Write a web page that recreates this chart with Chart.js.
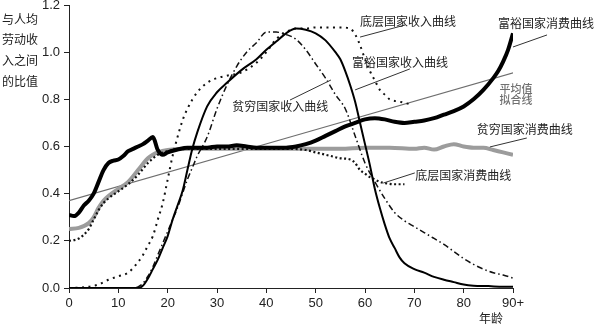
<!DOCTYPE html>
<html>
<head>
<meta charset="utf-8">
<script src="https://cdn.jsdelivr.net/npm/chart.js@4.4.1/dist/chart.umd.min.js"></script>
<style>
  html, body { margin: 0; padding: 0; background: #fff; }
</style>
</head>
<body>
<canvas id="ageChart" width="595" height="324"></canvas>
<script>
// tick labels
const xTickLabels = ['0', '10', '20', '30', '40', '50', '60', '70', '80', '90+'];
const yTickLabels = ['0.0', '0.2', '0.4', '0.6', '0.8', '1.0', '1.2'];

// 富裕国家消费曲线
const richConsAges = [0, 1, 2, 3, 4, 5, 6, 7, 8, 9, 10, 11, 12, 13, 14, 15, 16, 17, 18, 19, 20, 22, 24, 26, 28, 30, 32, 34, 36, 38, 40, 42, 44, 46, 48, 50, 52, 54, 56, 58, 60, 62, 64, 66, 68, 70, 72, 74, 76, 78, 80, 82, 84, 86, 87, 88, 89, 90];
const richConsVals = [0.31, 0.305, 0.32, 0.35, 0.37, 0.40, 0.45, 0.50, 0.53, 0.54, 0.545, 0.56, 0.58, 0.59, 0.60, 0.61, 0.625, 0.64, 0.585, 0.565, 0.575, 0.587, 0.595, 0.595, 0.595, 0.60, 0.60, 0.605, 0.60, 0.595, 0.595, 0.595, 0.595, 0.60, 0.61, 0.625, 0.645, 0.665, 0.685, 0.70, 0.715, 0.72, 0.715, 0.705, 0.70, 0.705, 0.71, 0.72, 0.735, 0.75, 0.77, 0.80, 0.84, 0.89, 0.92, 0.96, 1.01, 1.08];

// 贫穷国家消费曲线
const poorConsAges = [0, 2, 4, 5, 6, 7, 8, 10, 12, 14, 16, 17, 18, 20, 25, 30, 35, 40, 45, 50, 55, 60, 65, 70, 72, 74, 76, 78, 80, 82, 84, 86, 88, 90];
const poorConsVals = [0.25, 0.255, 0.275, 0.30, 0.34, 0.37, 0.39, 0.42, 0.45, 0.50, 0.55, 0.565, 0.575, 0.585, 0.59, 0.59, 0.59, 0.59, 0.59, 0.59, 0.59, 0.595, 0.595, 0.59, 0.595, 0.587, 0.60, 0.61, 0.60, 0.595, 0.595, 0.585, 0.575, 0.565];

// 底层国家消费曲线
const lowConsAges = [0, 2, 4, 5, 6, 7, 8, 10, 12, 14, 16, 18, 20, 25, 30, 35, 40, 45, 48, 50, 53, 55, 57, 58, 59, 60, 61, 62, 63, 64, 66, 68];
const lowConsVals = [0.20, 0.21, 0.25, 0.29, 0.33, 0.36, 0.38, 0.41, 0.44, 0.48, 0.53, 0.565, 0.58, 0.59, 0.59, 0.59, 0.59, 0.59, 0.585, 0.575, 0.56, 0.55, 0.545, 0.53, 0.50, 0.485, 0.47, 0.46, 0.45, 0.445, 0.44, 0.44];

// 富裕国家收入曲线
const richIncAges = [0, 14, 15, 16, 17, 18, 19, 20, 21, 22, 23, 24, 25, 26, 28, 30, 32, 35, 38, 40, 42, 44, 46, 48, 50, 52, 54, 55, 56, 57, 58, 59, 60, 61, 62, 63, 64, 65, 66, 67, 68, 70, 72, 74, 76, 78, 80, 82, 85, 88, 90];
const richIncVals = [0, 0, 0.01, 0.04, 0.08, 0.12, 0.17, 0.22, 0.29, 0.35, 0.41, 0.50, 0.59, 0.66, 0.77, 0.83, 0.87, 0.925, 0.97, 1.01, 1.045, 1.08, 1.10, 1.095, 1.08, 1.05, 1.0, 0.97, 0.92, 0.86, 0.79, 0.70, 0.61, 0.52, 0.42, 0.34, 0.27, 0.21, 0.17, 0.13, 0.105, 0.08, 0.065, 0.047, 0.035, 0.025, 0.015, 0.01, 0.008, 0.005, 0.005];

// 贫穷国家收入曲线
const poorIncAges = [0, 13, 14, 15, 16, 17, 18, 19, 20, 21, 22, 23, 24, 25, 26, 28, 30, 32, 34, 36, 38, 40, 42, 44, 46, 48, 50, 52, 54, 56, 58, 60, 62, 64, 66, 68, 70, 72, 74, 76, 78, 80, 82, 84, 86, 88, 90];
const poorIncVals = [0, 0, 0.005, 0.02, 0.05, 0.09, 0.14, 0.19, 0.24, 0.29, 0.34, 0.40, 0.46, 0.51, 0.56, 0.64, 0.76, 0.86, 0.94, 1.0, 1.04, 1.085, 1.085, 1.075, 1.055, 1.01, 0.95, 0.89, 0.82, 0.76, 0.645, 0.53, 0.45, 0.38, 0.32, 0.285, 0.26, 0.235, 0.21, 0.185, 0.155, 0.125, 0.10, 0.08, 0.065, 0.055, 0.042];

// 底层国家收入曲线
const lowIncAges = [0, 4, 6, 8, 10, 12, 14, 15, 16, 17, 18, 19, 20, 21, 22, 23, 24, 26, 28, 30, 32, 35, 38, 40, 42, 44, 46, 48, 50, 55, 57, 58, 59, 60, 61, 62, 63, 64, 65, 67, 69];
const lowIncVals = [0, 0.005, 0.015, 0.035, 0.05, 0.065, 0.11, 0.14, 0.18, 0.22, 0.29, 0.36, 0.46, 0.56, 0.64, 0.71, 0.76, 0.83, 0.87, 0.89, 0.90, 0.915, 0.955, 1.0, 1.055, 1.085, 1.10, 1.10, 1.105, 1.105, 1.10, 1.075, 1.03, 0.97, 0.92, 0.88, 0.84, 0.82, 0.80, 0.79, 0.78];

// 平均值拟合线
const fitAges = [0, 90.4];
const fitVals = [0.37, 0.915];

function pts(ages, vals) {
    return ages.map((a, i) => ({ x: a, y: vals[i] }));
}

// callouts, placed in data units (age, ratio)
const notes = [
    { text: '底层国家收入曲线', at: [68.7, 1.132], from: [59.0, 1.064], to: [68.1, 1.115] },
    { text: '富裕国家收入曲线', at: [67.1, 0.958], from: [58.0, 0.840], to: [69.1, 0.929] },
    { text: '贫穷国家收入曲线', at: [42.8, 0.768], from: [44.8, 0.797], to: [53.1, 0.882] },
    { text: '富裕国家消费曲线', at: [96.7, 1.120], from: [90.0, 1.022], to: [96.9, 1.073] },
    { text: '贫穷国家消费曲线', at: [92.4, 0.674], from: [85.3, 0.598], to: [92.8, 0.636] },
    { text: '底层国家消费曲线', at: [79.9, 0.479], from: [63.7, 0.445], to: [70.1, 0.488] },
    { text: '平均值', at: [90.6, 0.844], grey: true },
    { text: '拟合线', at: [90.6, 0.797], grey: true }
];

const cjk = '"Noto Sans CJK SC", sans-serif';

const notesPlugin = {
    id: 'notes',
    afterDraw(chart) {
        const { ctx, scales: { x, y } } = chart;
        ctx.save();
        ctx.lineWidth = 1;
        ctx.strokeStyle = '#333';
        notes.forEach(n => {
            if (n.from) {
                ctx.beginPath();
                ctx.moveTo(x.getPixelForValue(n.from[0]), y.getPixelForValue(n.from[1]));
                ctx.lineTo(x.getPixelForValue(n.to[0]), y.getPixelForValue(n.to[1]));
                ctx.stroke();
            }
            ctx.font = (n.grey ? '500 11px ' : '12px ') + cjk;
            ctx.fillStyle = n.grey ? '#707070' : '#222';
            ctx.textAlign = 'center';
            ctx.textBaseline = 'middle';
            ctx.fillText(n.text, x.getPixelForValue(n.at[0]), y.getPixelForValue(n.at[1]));
        });
        // y axis title
        ctx.font = '12px ' + cjk;
        ctx.fillStyle = '#222';
        ctx.textAlign = 'left';
        ['与人均', '劳动收', '入之间', '的比值'].forEach((s, i) => ctx.fillText(s, 2, 19 + i * 20.7));
        // x axis title
        ctx.textAlign = 'center';
        ctx.fillText('年龄', 491, 318);
        ctx.restore();
    }
};

const ctx = document.getElementById('ageChart').getContext('2d');
new Chart(ctx, {
    type: 'line',
    data: {
        datasets: [
            { data: pts(richConsAges, richConsVals), borderColor: '#000', borderWidth: 4 },
            { data: pts(richIncAges, richIncVals), borderColor: '#000', borderWidth: 2 },
            { data: pts(poorIncAges, poorIncVals), borderColor: '#111', borderWidth: 1.5, borderDash: [6, 3, 1.5, 3] },
            { data: pts(lowIncAges, lowIncVals), borderColor: '#111', borderWidth: 2, borderDash: [2, 4.5] },
            { data: pts(lowConsAges, lowConsVals), borderColor: '#111', borderWidth: 2.2, borderDash: [2, 2.5] },
            { data: pts(poorConsAges, poorConsVals), borderColor: '#9c9c9c', borderWidth: 4 },
            { data: pts(fitAges, fitVals), borderColor: '#6e6e6e', borderWidth: 1.2, tension: 0 }
        ]
    },
    options: {
        responsive: false,
        animation: false,
        layout: { padding: { top: 5, right: 82, bottom: 0, left: 0 } },
        elements: {
            point: { radius: 0 },
            line: { tension: 0.3, cubicInterpolationMode: 'monotone', fill: false }
        },
        plugins: { legend: { display: false }, tooltip: { enabled: false } },
        scales: {
            x: {
                type: 'linear', min: 0, max: 90,
                afterFit: s => { s.height = 36; s.paddingLeft = 0; s.paddingRight = 0; },
                grid: { drawOnChartArea: false, color: '#222', tickLength: 5 },
                border: { color: '#222', width: 1 },
                ticks: {
                    stepSize: 10, padding: 3, color: '#222', maxRotation: 0,
                    font: { family: '"Liberation Sans", Arial, sans-serif', size: 13 },
                    callback: (v, i) => xTickLabels[i]
                }
            },
            y: {
                min: 0, max: 1.2,
                afterFit: s => { s.width = 69; s.paddingTop = 0; s.paddingBottom = 0; },
                grid: { drawOnChartArea: false, color: '#222', tickLength: 5 },
                border: { color: '#222', width: 1 },
                ticks: {
                    stepSize: 0.2, padding: 4, color: '#222',
                    font: { family: '"Liberation Sans", Arial, sans-serif', size: 13 },
                    callback: (v, i) => yTickLabels[i]
                }
            }
        }
    },
    plugins: [notesPlugin]
});
</script>
</body>
</html>
